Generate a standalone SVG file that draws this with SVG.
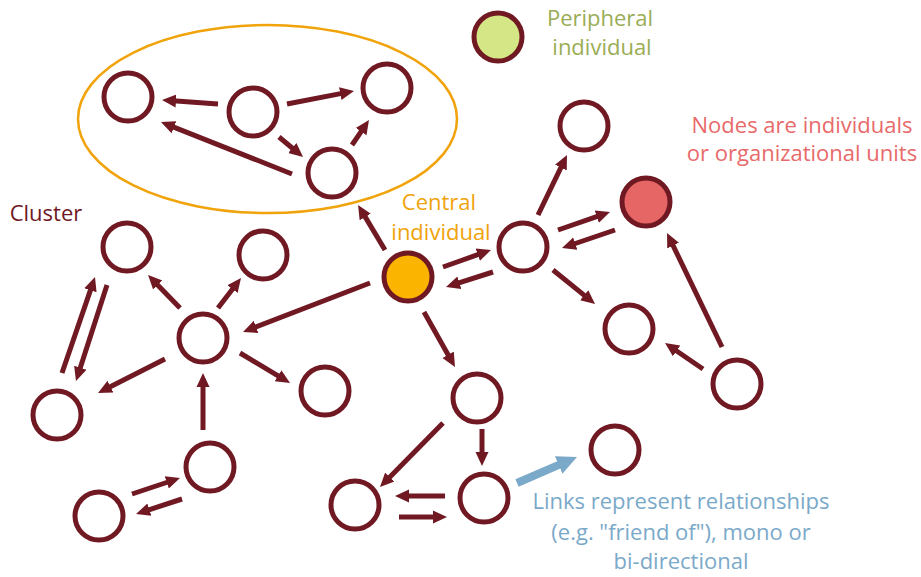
<svg xmlns="http://www.w3.org/2000/svg" width="921" height="577" viewBox="0 0 921 577">
<defs>
<style>
.n{fill:#ffffff;stroke:#701923;stroke-width:5}
.a{fill:none;stroke:#701923;stroke-width:5;marker-end:url(#h)}
.b{fill:none;stroke:#7aa9c9;stroke-width:8;marker-end:url(#hb)}
.t{font-family:"Open Sans","Noto Sans","Liberation Sans",sans-serif;font-size:22px;text-anchor:middle}
</style>
<marker id="h" markerUnits="userSpaceOnUse" markerWidth="16" markerHeight="16" viewBox="0 -8 16 16" refX="3" refY="0" orient="auto">
<path d="M0,-6.5 L14,0 L0,6.5 z" fill="#701923"/>
</marker>
<marker id="hb" markerUnits="userSpaceOnUse" markerWidth="22" markerHeight="22" viewBox="0 -11 22 22" refX="4" refY="0" orient="auto">
<path d="M0,-9.5 L20,0 L0,9.5 z" fill="#7aa9c9"/>
</marker>
</defs>
<rect width="921" height="577" fill="#ffffff"/>
<ellipse id="cluster-outline" cx="267.5" cy="119" rx="189.5" ry="94" fill="none" stroke="#f0a30a" stroke-width="2.5"/>
<g id="connectors">
<path class="a" d="M218,104 L173,100.8"/>
<path class="a" d="M287,104 L343.2,93.1"/>
<path class="a" d="M279,137 L294.6,150"/>
<path class="a" d="M292,174 L171.2,126.1"/>
<path class="a" d="M352,145 L362.8,129.1"/>
<path class="a" d="M385,250 L363.7,214.4"/>
<path class="a" d="M538,215 L562.2,164.9"/>
<path class="a" d="M558,230 L599.6,215.6"/>
<path class="a" d="M615,230 L572.4,244.5"/>
<path class="a" d="M443,267 L480.6,253.7"/>
<path class="a" d="M493,272 L456.5,283.7"/>
<path class="a" d="M553,270 L586.5,297.1"/>
<path class="a" d="M722,347 L671.8,242.9"/>
<path class="a" d="M703,369 L674.1,349.2"/>
<path class="a" d="M370,283 L253.3,328"/>
<path class="a" d="M424,312 L449.6,357.4"/>
<path class="a" d="M443,423 L387.7,479.2"/>
<path class="a" d="M482,429 L482,455"/>
<path class="a" d="M445,496 L406,496"/>
<path class="a" d="M399,517 L436,517"/>
<path class="a" d="M180,308 L155.7,282.9"/>
<path class="a" d="M218,308 L234.3,286.7"/>
<path class="a" d="M165,359 L107.8,388"/>
<path class="a" d="M240,353 L280.6,377.3"/>
<path class="a" d="M203,430 L203,384"/>
<path class="a" d="M62,373 L91.4,287.4"/>
<path class="a" d="M107,285 L79.4,370.5"/>
<path class="a" d="M132,494 L169.6,481.5"/>
<path class="a" d="M182,499 L146.5,510.6"/>
<path class="b" d="M517,483 L562.3,463.4"/>
</g>
<g id="node1"><circle class="n" cx="128" cy="97" r="24"/></g>
<g id="node2"><circle class="n" cx="253" cy="112" r="24"/></g>
<g id="node3"><circle class="n" cx="387" cy="88" r="24"/></g>
<g id="node4"><circle class="n" cx="332" cy="173" r="24"/></g>
<g id="peripheral"><circle class="n" cx="498" cy="37" r="24" style="fill:#d4e685"/></g>
<g id="node6"><circle class="n" cx="584" cy="126" r="24"/></g>
<g id="red-node"><circle class="n" cx="646" cy="202" r="24" style="fill:#e66666"/></g>
<g id="node8"><circle class="n" cx="523" cy="247" r="24"/></g>
<g id="central"><circle class="n" cx="408" cy="277" r="24" style="fill:#fbb400"/></g>
<g id="node10"><circle class="n" cx="127" cy="247" r="24"/></g>
<g id="node11"><circle class="n" cx="263" cy="255" r="24"/></g>
<g id="node12"><circle class="n" cx="203" cy="338" r="24"/></g>
<g id="node13"><circle class="n" cx="57" cy="415" r="24"/></g>
<g id="node14"><circle class="n" cx="325" cy="391" r="24"/></g>
<g id="node15"><circle class="n" cx="210" cy="467" r="24"/></g>
<g id="node16"><circle class="n" cx="99" cy="516" r="24"/></g>
<g id="node17"><circle class="n" cx="477" cy="398" r="24"/></g>
<g id="node18"><circle class="n" cx="355" cy="505" r="24"/></g>
<g id="node19"><circle class="n" cx="484" cy="498" r="24"/></g>
<g id="node20"><circle class="n" cx="615" cy="450" r="24"/></g>
<g id="node21"><circle class="n" cx="629" cy="329" r="24"/></g>
<g id="node22"><circle class="n" cx="737" cy="384" r="24"/></g>
<g id="labels">
<text class="t" x="600" y="26" fill="#9aad55">Peripheral</text>
<text class="t" x="602" y="55" fill="#9aad55">individual</text>
<text class="t" x="46" y="221" fill="#701923">Cluster</text>
<text class="t" x="439" y="210" fill="#f0a30a">Central</text>
<text class="t" x="441" y="240" fill="#f0a30a">individual</text>
<text class="t" x="802" y="133" fill="#e86a6a">Nodes are individuals</text>
<text class="t" x="802" y="161" fill="#e86a6a">or organizational units</text>
<text class="t" x="681" y="509" fill="#7aa9c9">Links represent relationships</text>
<text class="t" x="681" y="540" fill="#7aa9c9">(e.g. "friend of"), mono or</text>
<text class="t" x="681" y="569" fill="#7aa9c9">bi-directional</text>
</g>
</svg>
